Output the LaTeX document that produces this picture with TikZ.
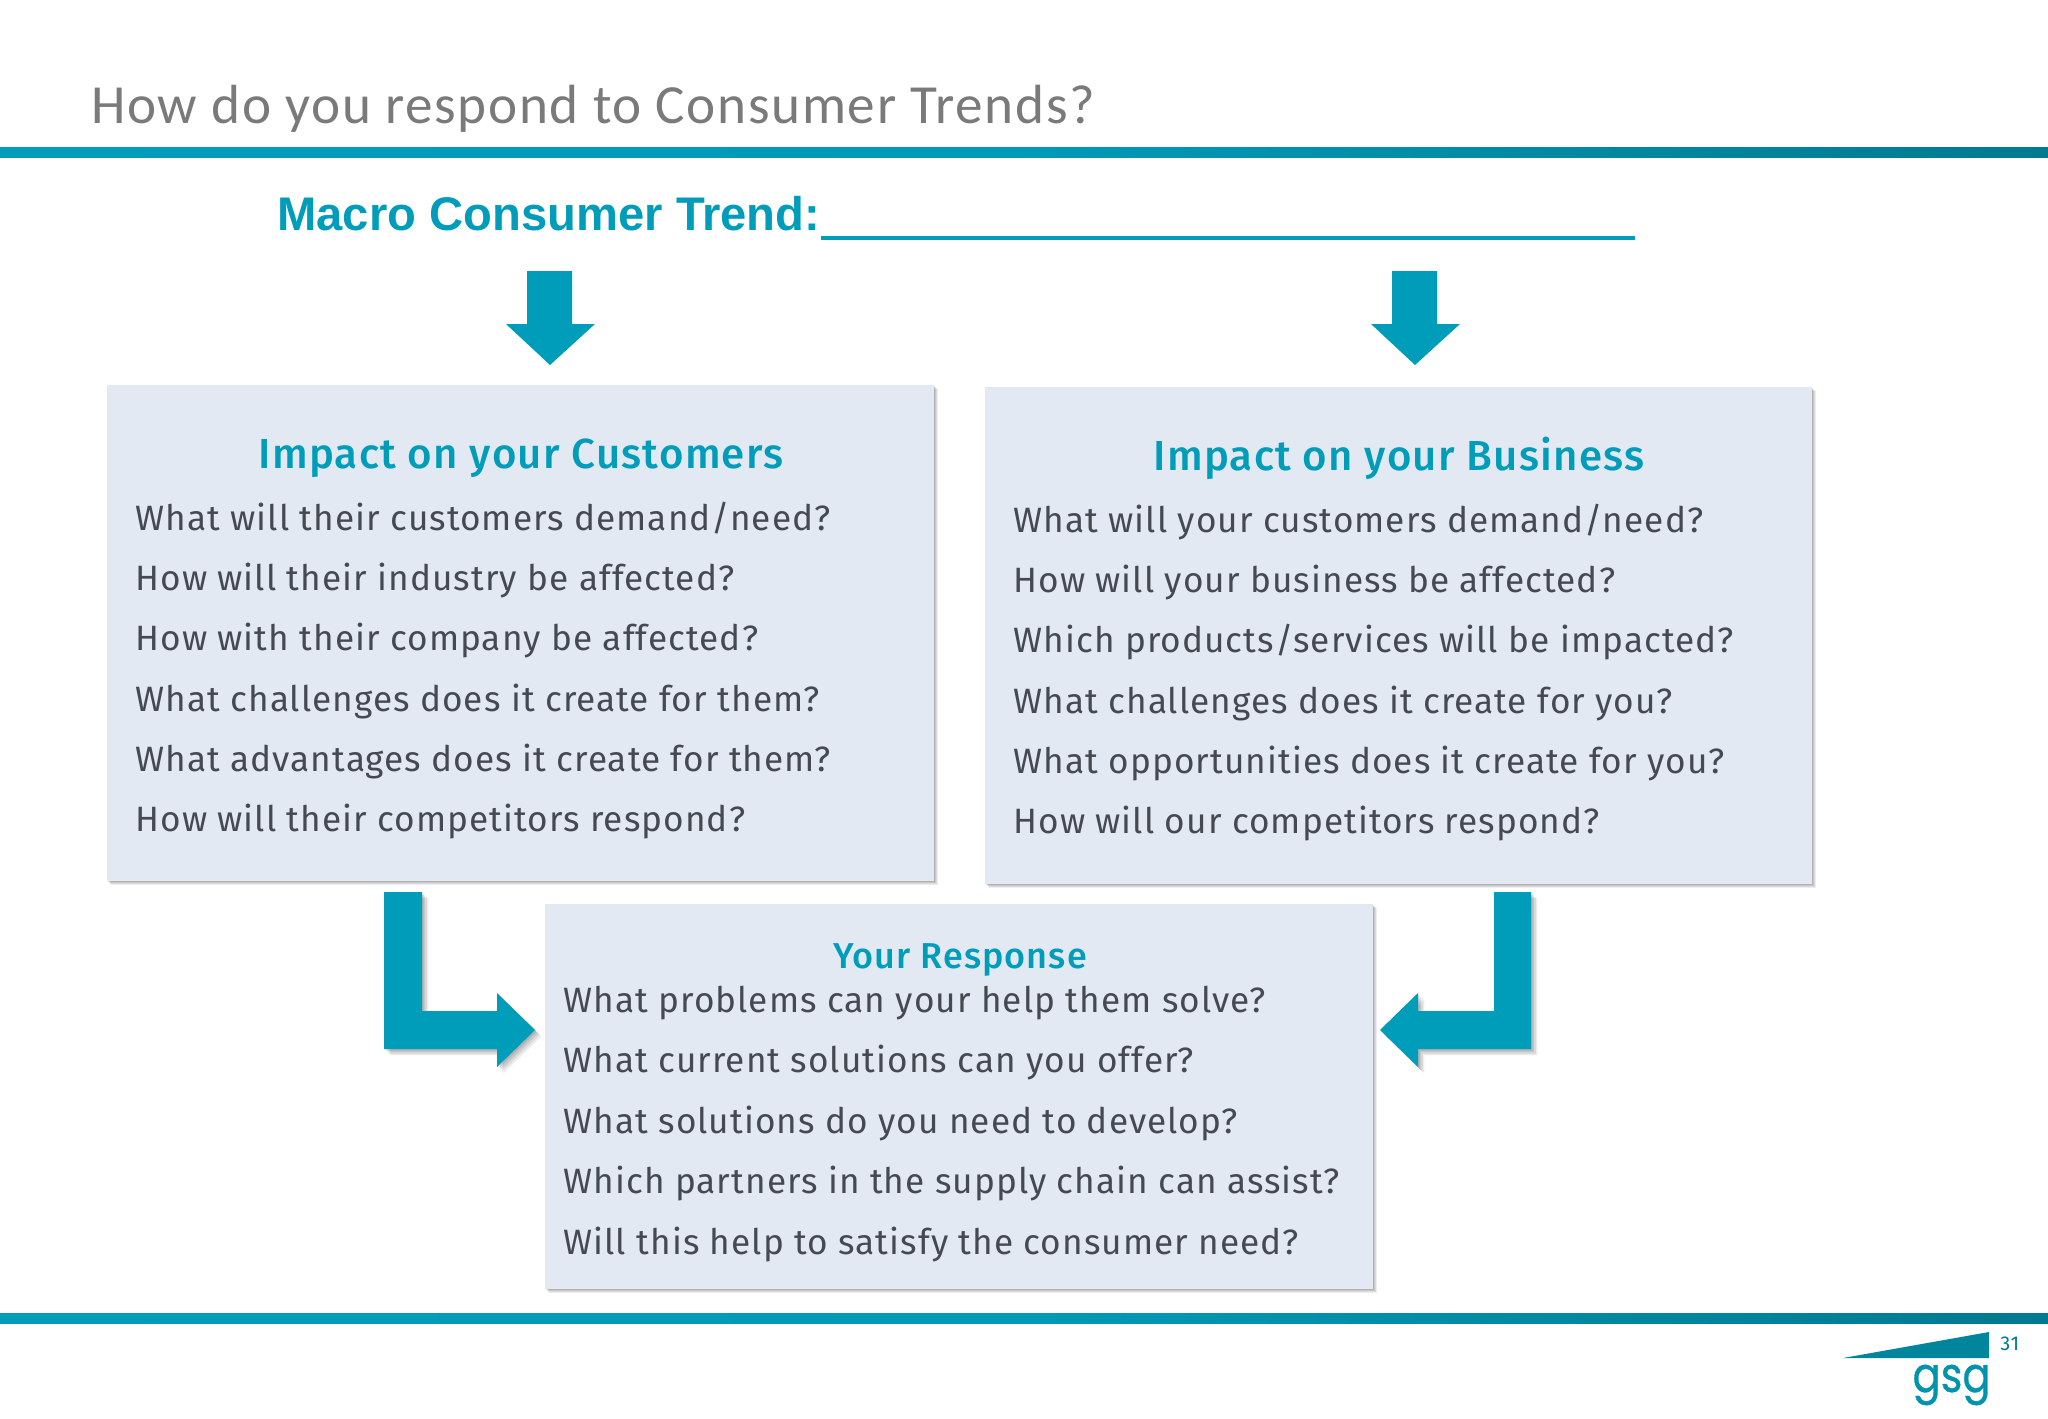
\documentclass[tikz,border=0pt]{standalone}
\usepackage{xcolor}
\usepackage{fontspec}
\usetikzlibrary{shadows, positioning}
\setmainfont{Fira Sans}
\newfontfamily\bodyfont[LetterSpace=3]{Fira Sans}
\newfontfamily\headfont[LetterSpace=3]{Fira Sans Medium}
\newfontfamily\titlefont[LetterSpace=3]{Carlito}
\newfontfamily\trendfont{Liberation Sans}
\newfontfamily\logofont[FakeStretch=0.85,FakeBold=0.6]{Poppins}
\definecolor{gsgteal}{HTML}{009DBB}
\definecolor{gsgdark}{HTML}{007A90}
\definecolor{gsgpanel}{HTML}{E3E9F2}
\definecolor{gsgtext}{HTML}{454A52}
\definecolor{gsgtitle}{HTML}{7A7A7A}
\begin{document}
\begin{tikzpicture}[
    x=0.5pt, y=-0.5pt,
    softshadow/.style={
        drop shadow={shadow xshift=#1*1.6, shadow yshift=-#1*1.6, opacity=0.07, fill=black},
        drop shadow={shadow xshift=#1*1.2, shadow yshift=-#1*1.2, opacity=0.08, fill=black},
        drop shadow={shadow xshift=#1*0.8, shadow yshift=-#1*0.8, opacity=0.09, fill=black},
        drop shadow={shadow xshift=#1*0.4, shadow yshift=-#1*0.4, opacity=0.10, fill=black}},
    panel/.style={rectangle, fill=gsgpanel, anchor=north west, inner sep=0pt, softshadow=1pt},
    question/.style={anchor=base west, inner sep=0pt, font=\bodyfont\fontsize{17.6}{20}\selectfont, color=gsgtext},
    heading/.style={anchor=base, inner sep=0pt, font=\headfont\fontsize{#1}{22}\selectfont, color=gsgteal},
    blockarrow/.style={fill=gsgteal},
    shadowarrow/.style={fill=gsgteal, softshadow=2pt},
    rulebar/.style={left color=gsgteal, right color=gsgdark, middle color=gsgteal!90!gsgdark},
]
\path[use as bounding box, fill=white] (0,0) rectangle (2048,1418);

% title and rules
\node[anchor=base west, inner sep=0pt, font=\titlefont\fontsize{27.6}{30}\selectfont, color=gsgtitle] (title) at (91,124) {How do you respond to Consumer Trends?};
\fill[rulebar] (0,147) rectangle (2048,157);
\fill[rulebar] (0,1313) rectangle (2048,1323);

% trend line
\node[anchor=base west, inner sep=0pt, font=\trendfont\bfseries\fontsize{23.6}{28}\selectfont, color=gsgteal] (trend) at (277,230) {Macro Consumer Trend:};
\coordinate (blankend) at (1635,238);
\draw[gsgteal, line width=2pt] (trend.base east |- blankend) -- (blankend);

% arrows from the trend
\fill[blockarrow] (527,271) -- (572,271) -- (572,324) -- (595,324) -- (550,365) -- (506,324) -- (527,324) -- cycle;
\fill[blockarrow] (1392,271) -- (1437,271) -- (1437,324) -- (1460,324) -- (1415,365) -- (1371,324) -- (1392,324) -- cycle;

% panels
\node[panel, minimum width=413.5pt, minimum height=248pt] (customers) at (107,385) {};
\node[panel, minimum width=413.5pt, minimum height=248.5pt] (business) at (985,387) {};

% arrows to the response
\fill[shadowarrow] (384,892) -- (422,892) -- (422,1011) -- (497,1011) -- (497,993) -- (535,1030) -- (497,1067) -- (497,1049) -- (384,1049) -- cycle;
\fill[shadowarrow] (1531,892) -- (1494,892) -- (1494,1011) -- (1418,1011) -- (1418,993) -- (1380,1030) -- (1418,1067) -- (1418,1049) -- (1531,1049) -- cycle;

\node[panel, minimum width=414pt, minimum height=192.5pt] (response) at (545,904) {};

% customers
\node[heading=21] (customershead) at (521,468) {Impact on your Customers};
\node[question] (c1) at (135,530) {What will their customers demand/need?};
\node[question] (c2) at (135,590) {How will their industry be affected?};
\node[question] (c3) at (135,650) {How with their company be affected?};
\node[question] (c4) at (135,711) {What challenges does it create for them?};
\node[question] (c5) at (135,771) {What advantages does it create for them?};
\node[question] (c6) at (135,831) {How will their competitors respond?};

% business
\node[heading=21] (businesshead) at (1399,470) {Impact on your Business};
\node[question] (b1) at (1013,532) {What will your customers demand/need?};
\node[question] (b2) at (1013,592) {How will your business be affected?};
\node[question] (b3) at (1013,652) {Which products/services will be impacted?};
\node[question] (b4) at (1013,713) {What challenges does it create for you?};
\node[question] (b5) at (1013,773) {What opportunities does it create for you?};
\node[question] (b6) at (1013,833) {How will our competitors respond?};

% response
\node[heading=18] (responsehead) at (960,968) {Your Response};
\node[question] (r1) at (563,1012) {What problems can your help them solve?};
\node[question] (r2) at (563,1072) {What current solutions can you offer?};
\node[question] (r3) at (563,1133) {What solutions do you need to develop?};
\node[question] (r4) at (563,1193) {Which partners in the supply chain can assist?};
\node[question] (r5) at (563,1254) {Will this help to satisfy the consumer need?};

% logo
\fill[gsgdark!70!gsgteal] (1843,1358) -- (1989,1332) -- (1989,1358) -- cycle;
\node[anchor=base east, inner sep=0pt, font=\logofont\fontsize{24.5}{30}\selectfont, color=gsgteal!70!gsgdark] (logo) at (1991,1392) {gsg};
\node[anchor=base west, inner sep=0pt, font=\bodyfont\fontsize{10}{10}\selectfont, color=gsgdark] (page) at (2000,1350) {31};
\end{tikzpicture}
\end{document}
